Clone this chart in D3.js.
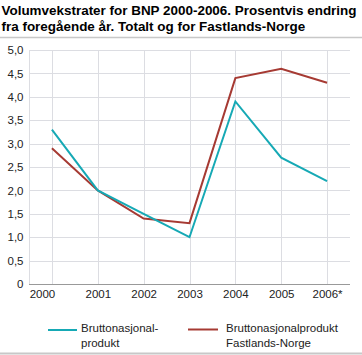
<!DOCTYPE html>
<html><head><meta charset="utf-8">
<script src="https://cdn.jsdelivr.net/npm/d3@7"></script>
<style>body{margin:0;background:#fff}svg{display:block;font-family:"Liberation Sans",Arial,sans-serif}</style>
</head><body><svg id="c" width="362" height="355"></svg>
<script>
const years = ["2000","2001","2002","2003","2004","2005","2006*"];
const bnp = [3.3, 2.0, 1.5, 1.0, 3.9, 2.7, 2.2];
const fastland = [2.9, 2.0, 1.4, 1.3, 4.4, 4.6, 4.3];
const yTicks = [0,0.5,1,1.5,2,2.5,3,3.5,4,4.5,5];
const titleLines = ["Volumvekstrater for BNP 2000-2006. Prosentvis endring","fra foregående år. Totalt og for Fastlands-Norge"];
const legendTeal = ["Bruttonasjonal-","produkt"];
const legendRed = ["Bruttonasjonalprodukt","Fastlands-Norge"];

const svg = d3.select("#c");
const L=29,R=350,T=50,B=284;
const x = d3.scalePoint().domain(years).range([L,R]).padding(0.5);
const y = d3.scaleLinear().domain([0,5]).range([B,T]);

svg.append("g").selectAll("text").data(titleLines).join("text")
  .attr("x",1.5).attr("y",(d,i)=>15+i*16).attr("font-size",13.45).attr("font-weight","bold").attr("fill","#000").text(d=>d);
svg.append("line").attr("x1",0).attr("x2",362).attr("y1",37.5).attr("y2",37.5).attr("stroke","#c8c8c8").attr("stroke-width",1.5);

// grid
svg.append("g").selectAll("line").data(yTicks.filter(d=>d>0)).join("line")
  .attr("x1",L).attr("x2",R).attr("y1",d=>Math.round(y(d))+0.5).attr("y2",d=>Math.round(y(d))+0.5)
  .attr("stroke","#dcdde2").attr("stroke-width",1);
svg.append("g").selectAll("line").data(years).join("line")
  .attr("x1",d=>Math.round(x(d))+0.5).attr("x2",d=>Math.round(x(d))+0.5).attr("y1",T).attr("y2",B)
  .attr("stroke","#dcdde2").attr("stroke-width",1);
svg.append("line").attr("x1",L+0.5).attr("x2",L+0.5).attr("y1",T).attr("y2",B).attr("stroke","#dcdde2");

// axes
const ya = svg.append("g").attr("transform",`translate(${L},0)`)
  .call(d3.axisLeft(y).tickValues(yTicks).tickSize(0).tickPadding(5.5).tickFormat(d=>d===0?"0":d3.format(".1f")(d).replace(".",",")));
ya.select(".domain").remove();
ya.selectAll("text").attr("font-size",11.5).attr("fill","#222").attr("font-family","Liberation Sans, Arial, sans-serif");
const xa = svg.append("g").attr("transform",`translate(0,${B})`)
  .call(d3.axisBottom(x).tickSize(0).tickPadding(6));
xa.select(".domain").attr("stroke","#999").attr("d",`M${L},0.5H${R}`);
xa.selectAll("text").attr("font-size",11.5).attr("fill","#222").attr("font-family","Liberation Sans, Arial, sans-serif")
  .attr("dx",(d,i)=>i===0?"-10":"0");

const line = d3.line().x((d,i)=>x(years[i])).y(d=>y(d));
svg.append("path").datum(fastland).attr("d",line).attr("fill","none").attr("stroke","#a63a33").attr("stroke-width",2);
svg.append("path").datum(bnp).attr("d",line).attr("fill","none").attr("stroke","#16a9b5").attr("stroke-width",2);

// legend
svg.append("line").attr("x1",48).attr("x2",77).attr("y1",330).attr("y2",330).attr("stroke","#16a9b5").attr("stroke-width",2);
svg.append("g").selectAll("text").data(legendTeal).join("text").attr("x",81).attr("y",(d,i)=>332+i*14.5)
  .attr("font-size",11.5).attr("fill","#222").text(d=>d);
svg.append("line").attr("x1",188).attr("x2",218).attr("y1",329.5).attr("y2",329.5).attr("stroke","#a63a33").attr("stroke-width",2);
svg.append("g").selectAll("text").data(legendRed).join("text").attr("x",226).attr("y",(d,i)=>332+i*14.5)
  .attr("font-size",11.5).attr("fill","#222").text(d=>d);
svg.append("line").attr("x1",0).attr("x2",362).attr("y1",353.5).attr("y2",353.5).attr("stroke","#c8c8c8").attr("stroke-width",2);
</script></body></html>
